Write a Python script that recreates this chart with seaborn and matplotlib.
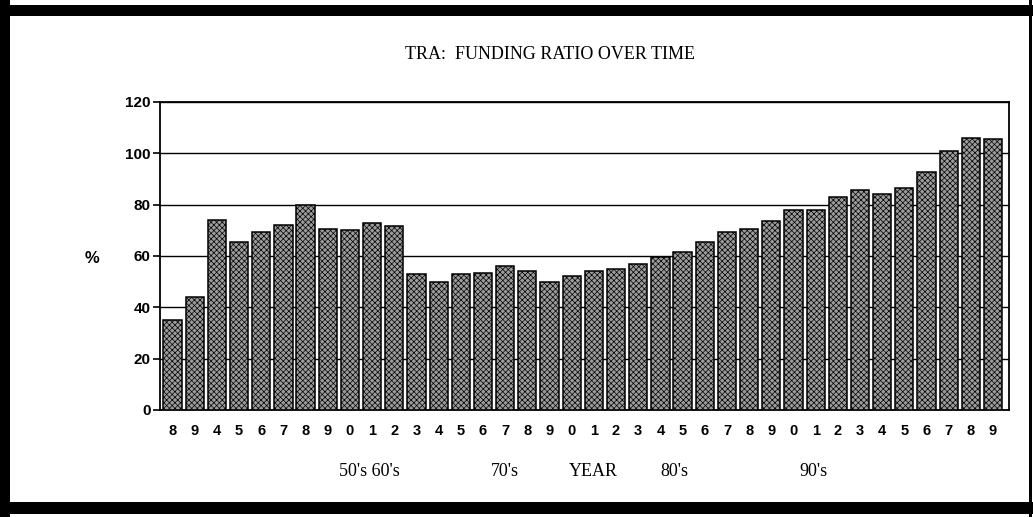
import numpy as np
import pandas as pd
import matplotlib
matplotlib.use("Agg")
import matplotlib.pyplot as plt
import seaborn as sns
from matplotlib.patches import Rectangle

# values
tick_labels = ["8", "9", "4", "5", "6", "7", "8", "9",
               "0", "1", "2", "3", "4", "5", "6", "7", "8", "9",
               "0", "1", "2", "3", "4", "5", "6", "7", "8", "9",
               "0", "1", "2", "3", "4", "5", "6", "7", "8", "9"]
funding_ratio = [35, 44, 74, 65.5, 69.5, 72, 80, 70.5,
                 70, 73, 71.5, 53, 50, 53, 53.5, 56, 54, 50,
                 52, 54, 55, 57, 59.5, 61.5, 65.5, 69.5, 70.5, 73.5,
                 78, 78, 83, 85.5, 84, 86.5, 92.5, 101, 106, 105.5]
decade_labels = ["50's 60's", "70's", "YEAR", "80's", "90's"]
decade_x = [0.358, 0.489, 0.574, 0.653, 0.787]
y_ticks = [0, 20, 40, 60, 80, 100, 120]

df = pd.DataFrame({"idx": np.arange(len(funding_ratio)), "ratio": funding_ratio})

sns.set_style("white")
plt.rcParams["hatch.linewidth"] = 0.5
plt.rcParams["text.color"] = "black"
plt.rcParams["xtick.color"] = "black"
plt.rcParams["ytick.color"] = "black"

fig = plt.figure(figsize=(10.33, 5.17), dpi=100)
ax = fig.add_axes([0.155, 0.207, 0.822, 0.596])

sns.barplot(data=df, x="idx", y="ratio", color="#9c9c9c", width=0.82,
            edgecolor="black", linewidth=1.1, saturation=1, ax=ax)
for p in ax.patches:
    p.set_hatch("xxxxxx")
    p.set_zorder(3)

ax.set_xlim(-0.56, len(funding_ratio) - 0.27)
ax.set_ylim(0, 120)
ax.set_yticks(y_ticks)
ax.set_yticklabels([str(v) for v in y_ticks], fontfamily="Liberation Sans",
                   fontweight="bold", fontsize=11, color="black")
ax.set_xticks(np.arange(len(tick_labels)))
ax.set_xticklabels(tick_labels, fontfamily="Liberation Sans",
                   fontweight="bold", fontsize=10.5, color="black")
ax.set_xticks(np.arange(len(tick_labels)) + 0.5, minor=True)
ax.tick_params(axis="x", which="major", length=0, pad=10)
ax.tick_params(axis="x", which="minor", length=6, width=1.2, direction="out", color="black")
ax.tick_params(axis="y", length=5, width=1.2, direction="out", color="black", left=True, pad=2)
ax.set_xlabel("")
ax.set_ylabel("")

ax.grid(axis="y", color="black", linewidth=1.0, zorder=0)
ax.set_axisbelow(True)
for s in ax.spines.values():
    s.set_color("black")
    s.set_linewidth(1.3)

fig.text(0.532, 0.895, "TRA:  FUNDING RATIO OVER TIME", ha="center", va="center",
         fontfamily="Liberation Serif", fontsize=13, color="black")
fig.text(0.089, 0.5, "%", ha="center", va="center",
         fontfamily="Liberation Sans", fontweight="bold", fontsize=12, color="black")
for lab, xx in zip(decade_labels, decade_x):
    fig.text(xx, 0.088, lab, ha="center", va="center",
             fontfamily="Liberation Serif", fontsize=13, color="black")

# scanned page border: heavy on top, left and bottom, thin on the right
bands = [(0.0, 0.97, 1.0, 0.02), (0.0, 0.0, 0.01, 1.0),
         (0.0, 0.005, 1.0, 0.024), (0.996, 0.0, 0.003, 1.0)]
for x0, y0, w, h in bands:
    fig.patches.append(Rectangle((x0, y0), w, h, transform=fig.transFigure,
                                 facecolor="black", edgecolor="none"))

fig.savefig("out.png", dpi=100)
